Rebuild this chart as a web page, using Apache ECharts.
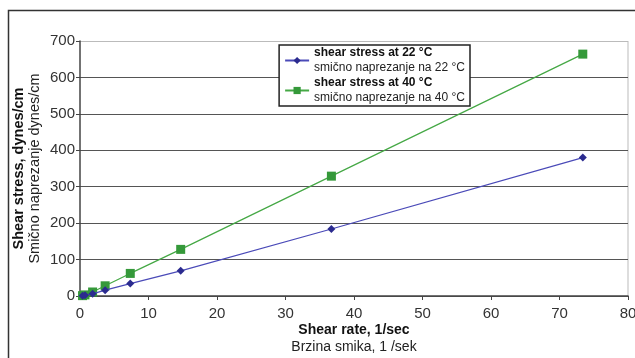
<!DOCTYPE html>
<html><head><meta charset="utf-8">
<script src="https://cdn.jsdelivr.net/npm/echarts@6/dist/echarts.min.js"></script>
<style>html,body{margin:0;padding:0;background:#fff}#c{width:635px;height:358px}</style>
</head><body><div id="c"></div>
<script>
const shearRate = [0.37, 0.73, 1.84, 3.67, 7.34, 14.7, 36.7, 73.4];
const stress22 = [1, 2, 6, 16, 34, 69, 184, 380];
const stress40 = [1, 3, 11, 28, 62, 128, 329, 664];
const seriesNames = ['shear stress at 22 °C', 'shear stress at 40 °C'];
const seriesSub = ['smično naprezanje na 22 °C', 'smično naprezanje na 40 °C'];
const xTitle = ['Shear rate, 1/sec', 'Brzina smika, 1 /sek'];
const yTitle = ['Shear stress, dynes/cm', 'Smično naprezanje dynes/cm'];

const F = 'Liberation Sans, Arial, sans-serif';
const chart = echarts.init(document.getElementById('c'));
chart.setOption({
  animation: false,
  textStyle: {fontFamily: F},
  graphic: [
    {type: 'rect', left: 6, top: 8, shape: {width: 700, height: 400}, style: {fill: 'none', stroke: '#333', lineWidth: 1.5}, z: -1},
    {type: 'line', shape: {x1: 628, y1: 41, x2: 628, y2: 296}, style: {stroke: '#bbb', lineWidth: 1}}
  ],
  grid: {left: 80, right: 7, top: 41, bottom: 62, outerBoundsMode: 'none', containLabel: false},
  legend: {
    right: 165, top: 45, orient: 'vertical', itemGap: 3,
    borderColor: '#222', borderWidth: 1.5, padding: [2, 5, 2, 5], backgroundColor: '#fff',
    itemWidth: 24, itemHeight: 9,
    data: seriesNames,
    formatter: n => { const i = seriesNames.indexOf(n); return '{b|' + n + '}\n{n|' + seriesSub[i] + '}'; },
    textStyle: {rich: {b: {fontFamily: F, fontWeight: 'bold', fontSize: 12, color: '#111', lineHeight: 15}, n: {fontFamily: F, fontSize: 12, color: '#222', lineHeight: 15}}}
  },
  xAxis: {
    type: 'value', min: 0, max: 80, interval: 10,
    name: '{b|' + xTitle[0] + '}\n{n|' + xTitle[1] + '}', nameLocation: 'middle', nameGap: 26, nameMoveOverlap: false,
    nameTextStyle: {rich: {b: {fontFamily: F, fontWeight: 'bold', fontSize: 14, color: '#111', lineHeight: 17}, n: {fontFamily: F, fontSize: 14, color: '#222', lineHeight: 17}}},
    axisLine: {lineStyle: {color: '#444', width: 1.5}},
    axisTick: {show: true, length: 4, lineStyle: {color: '#444'}},
    axisLabel: {color: '#333', fontSize: 15, margin: 10},
    splitLine: {show: false}
  },
  yAxis: {
    type: 'value', min: 0, max: 700, interval: 100,
    name: '{b|' + yTitle[0] + '}\n{n|' + yTitle[1] + '}', nameLocation: 'middle', nameGap: 37, nameRotate: 90, nameMoveOverlap: false,
    nameTextStyle: {rich: {b: {fontFamily: F, fontWeight: 'bold', fontSize: 14.5, color: '#111', lineHeight: 16}, n: {fontFamily: F, fontSize: 14.5, color: '#222', lineHeight: 16}}},
    axisLine: {show: true, lineStyle: {color: '#444', width: 1.5}},
    axisTick: {show: true, length: 4, lineStyle: {color: '#444'}},
    axisLabel: {color: '#333', fontSize: 15, margin: 5},
    splitLine: {show: true, lineStyle: {color: ['#555', '#555', '#555', '#555', '#555', '#555', '#555', '#bbb'], width: 1.2}}
  },
  series: [
    {name: seriesNames[0], type: 'line', data: shearRate.map((x, i) => [x, stress22[i]]),
     symbol: 'diamond', symbolSize: 8, lineStyle: {color: '#4a4ab8', width: 1.2},
     itemStyle: {color: '#2b2b8f'}, z: 3},
    {name: seriesNames[1], type: 'line', data: shearRate.map((x, i) => [x, stress40[i]]),
     symbol: 'rect', symbolSize: 9, lineStyle: {color: '#45a845', width: 1.2},
     itemStyle: {color: '#35993a'}, z: 2}
  ]
});
</script></body></html>
